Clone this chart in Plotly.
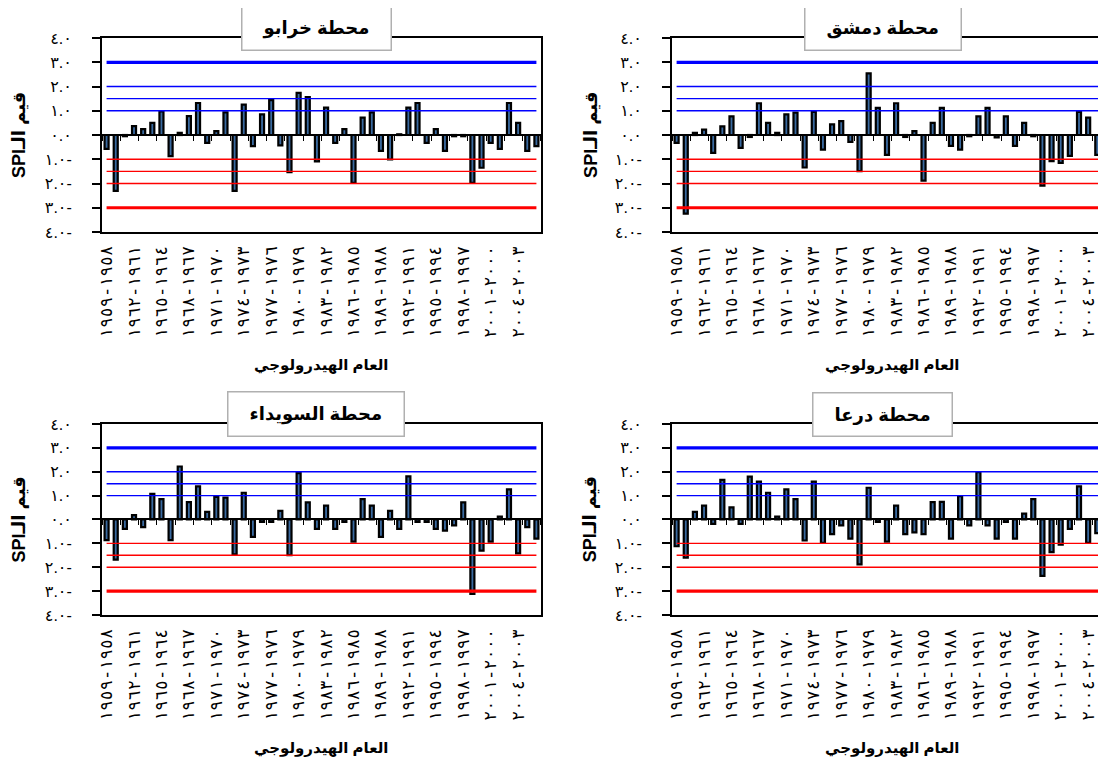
import plotly.graph_objects as go

W, H = 1106, 764

hydro_years = [
    "1958-1959", "1959-1960", "1960-1961", "1961-1962", "1962-1963", "1963-1964",
    "1964-1965", "1965-1966", "1966-1967", "1967-1968", "1968-1969", "1969-1970",
    "1970-1971", "1971-1972", "1972-1973", "1973-1974", "1974-1975", "1975-1976",
    "1976-1977", "1977-1978", "1978-1979", "1979-1980", "1980-1981", "1981-1982",
    "1982-1983", "1983-1984", "1984-1985", "1985-1986", "1986-1987", "1987-1988",
    "1988-1989", "1989-1990", "1990-1991", "1991-1992", "1992-1993", "1993-1994",
    "1994-1995", "1995-1996", "1996-1997", "1997-1998", "1998-1999", "1999-2000",
    "2000-2001", "2001-2002", "2002-2003", "2003-2004", "2004-2005", "2005-2006",
]
AR = str.maketrans("0123456789", "٠١٢٣٤٥٦٧٨٩")
categories = [y.translate(AR) for y in hydro_years]
label_categories = categories[::3]

spi_kharabo = [
    -0.57, -2.30, -0.05, 0.37, 0.24, 0.50, 0.97, -0.87, 0.09, 0.78, 1.32, -0.32,
    0.16, 0.93, -2.30, 1.25, -0.46, 0.85, 1.44, -0.43, -1.53, 1.74, 1.56, -1.09,
    1.13, -0.32, 0.24, -1.97, 0.72, 0.93, -0.65, -1.01, 0.03, 1.13, 1.32, -0.32,
    0.24, -0.65, -0.05, -0.05, -1.97, -1.35, -0.32, -0.57, 1.32, 0.50, -0.65, -0.46,
]
spi_damascus = [
    -0.32, -3.24, 0.09, 0.22, -0.74, 0.36, 0.77, -0.53, -0.08, 1.31, 0.50, 0.09,
    0.85, 0.92, -1.34, 0.95, -0.60, 0.44, 0.57, -0.28, -1.49, 2.54, 1.12, -0.82,
    1.31, -0.08, 0.16, -1.88, 0.50, 1.12, -0.45, -0.60, -0.05, 0.77, 1.12, -0.10,
    0.77, -0.45, 0.50, -0.05, -2.09, -1.08, -1.15, -0.86, 0.95, 0.72, -0.82, -0.53,
]
spi_suwayda = [
    -0.86, -1.68, -0.39, 0.18, -0.32, 1.07, 0.85, -0.86, 2.22, 0.73, 1.39, 0.32,
    0.95, 0.92, -1.46, 1.12, -0.73, -0.10, -0.10, 0.36, -1.49, 1.94, 0.72, -0.39,
    0.58, -0.39, -0.10, -0.93, 0.85, 0.58, -0.73, 0.36, -0.39, 1.81, -0.10, -0.10,
    -0.39, -0.47, -0.25, 0.72, -3.12, -1.30, -0.93, 0.12, 1.26, -1.42, -0.32, -0.80,
]
spi_daraa = [
    -1.12, -1.60, 0.32, 0.58, -0.18, 1.66, 0.51, -0.18, 1.80, 1.59, 1.12, 0.12,
    1.26, 0.85, -0.88, 1.59, -0.98, -0.61, -0.25, -0.80, -1.88, 1.33, -0.10, -0.93,
    0.58, -0.61, -0.54, -0.61, 0.73, 0.74, -0.80, 0.98, -0.25, 1.98, -0.25, -0.80,
    -0.10, -0.80, 0.25, 0.85, -2.36, -1.37, -1.05, -0.39, 1.39, -0.98, -0.57, -0.37,
]

station_titles = ["محطة خرابو", "محطة دمشق", "محطة السويداء", "محطة درعا"]
station_values = [spi_kharabo, spi_damascus, spi_suwayda, spi_daraa]

wet_thresholds = [3, 2, 1.5, 1]
dry_thresholds = [-1, -1.5, -2, -3]

y_tickvals = [-4, -3, -2, -1, 0, 1, 2, 3, 4]
y_ticktext = ["٤.٠-", "٣.٠-", "٢.٠-", "١.٠-", "٠.٠", "١.٠", "٢.٠", "٣.٠", "٤.٠"]

x_title = "العام الهيدرولوجي"
y_title = "\u202bقيم الـSPI\u202c"

FONT = "Arial, 'DejaVu Sans', sans-serif"
MONO = "'DejaVu Sans Mono', 'DejaVu Sans', monospace"

# panel geometry (paper fractions; page has an 8px body margin)
x_left = [0.0850, 0.4819]
x_right = [0.6004, 0.9973]
y_top = [0.7068, 0.9607]
y_bot = [0.2055, 0.4555]
panels = [(x_left, y_top), (x_right, y_top), (x_left, y_bot), (x_right, y_bot)]

fig = go.Figure()
layout_axes = {}
annotations = []
n = len(categories)

for i, ((xd, yd), title, vals) in enumerate(zip(panels, station_titles, station_values), start=1):
    xa = "x" if i == 1 else f"x{i}"
    ya = "y" if i == 1 else f"y{i}"
    xo = f"x{i + 4}"

    for t in wet_thresholds:
        fig.add_trace(go.Scatter(
            x=categories, y=[t] * n, mode="lines", xaxis=xa, yaxis=ya,
            line=dict(color="#0000ff", width=3.2 if abs(t) == 3 else 1.4),
            showlegend=False, hoverinfo="skip"))
    for t in dry_thresholds:
        fig.add_trace(go.Scatter(
            x=categories, y=[t] * n, mode="lines", xaxis=xa, yaxis=ya,
            line=dict(color="#ff0000", width=3.2 if abs(t) == 3 else 1.4),
            showlegend=False, hoverinfo="skip"))

    fig.add_trace(go.Bar(
        x=categories, y=vals, xaxis=xa, yaxis=ya,
        marker=dict(color="#3a6aa0", line=dict(color="black", width=2.2)),
        showlegend=False))

    fig.add_trace(go.Scatter(
        x=categories, y=[None] * n, xaxis=xo, yaxis=ya, mode="lines",
        showlegend=False, hoverinfo="skip"))

    common_x = dict(type="category", categoryorder="array", categoryarray=categories,
                    range=[-0.5, n - 0.5], showgrid=False, zeroline=False, automargin=False)
    layout_axes["xaxis" if i == 1 else f"xaxis{i}"] = dict(
        domain=xd, anchor=ya, showline=True, mirror=True, linecolor="black", linewidth=2,
        ticks="", tickmode="array", tickvals=label_categories, ticktext=label_categories,
        tickangle=-90, ticklabelstandoff=5,
        tickfont=dict(family=MONO, size=17, color="black"), **common_x)
    layout_axes[f"xaxis{i + 4}"] = dict(
        overlaying=xa, anchor="free", position=(yd[0] + yd[1]) / 2, side="bottom",
        showline=True, linecolor="black", linewidth=2, ticks="outside", ticklen=5,
        tickwidth=1, tickcolor="black", tickson="boundaries", showticklabels=False,
        **common_x)
    layout_axes["yaxis" if i == 1 else f"yaxis{i}"] = dict(
        domain=yd, anchor=xa, range=[-4, 4], tickmode="array", tickvals=y_tickvals,
        ticktext=y_ticktext, ticks="outside", ticklen=8, tickwidth=1.5, tickcolor="black",
        showline=True, mirror=True, linecolor="black", linewidth=2, showgrid=False,
        zeroline=False, ticklabelstandoff=17, automargin=False,
        tickfont=dict(family=FONT, size=16, color="black"))

    pad = "\u00a0\u00a0"
    annotations.append(dict(
        text=f"<b>{pad}{title}{pad}</b>", xref="paper", yref="paper",
        x=0.2785 if xd is x_left else 0.7911, y=yd[1] + 0.013,
        xanchor="center", yanchor="middle", showarrow=False,
        font=dict(family=FONT, size=18, color="black"),
        bgcolor="white", bordercolor="#b0b0b0", borderwidth=1.5, borderpad=11))
    annotations.append(dict(
        text=f"<b>{x_title}</b>", xref="paper", yref="paper",
        x=0.283 if xd is x_left else 0.799, y=yd[0] - 0.174,
        xanchor="center", yanchor="middle", showarrow=False,
        font=dict(family=FONT, size=15, color="black")))
    annotations.append(dict(
        text=f"<b>{y_title}</b>", xref="paper", yref="paper",
        x=0.010 if xd is x_left else 0.527, y=(yd[0] + yd[1]) / 2,
        xanchor="center", yanchor="middle", showarrow=False, textangle=-90,
        font=dict(family=FONT, size=18, color="black")))

fig.update_layout(
    width=W, height=H, margin=dict(l=0, r=0, t=0, b=0, autoexpand=False),
    paper_bgcolor="white", plot_bgcolor="white",
    bargap=0.56, annotations=annotations, showlegend=False,
    font=dict(family=FONT, color="black"),
    **layout_axes)

fig.write_html("out.html")
